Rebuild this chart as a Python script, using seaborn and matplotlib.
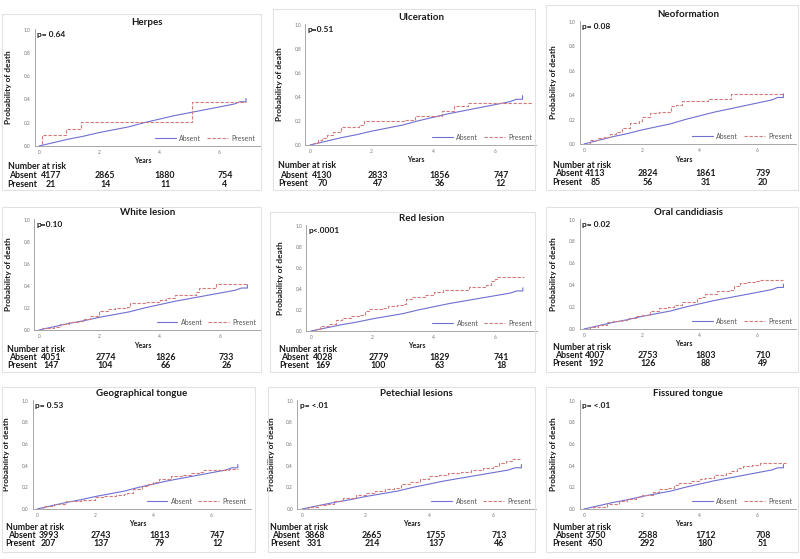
import numpy as np
import pandas as pd
import seaborn as sns
import matplotlib.pyplot as plt
import matplotlib.transforms as mtransforms
from matplotlib.patches import Rectangle
from matplotlib.lines import Line2D

sns.set_style('white')
plt.rcParams['font.family'] = ['Lato', 'DejaVu Sans']

# "Absent" curve: practically the same in every panel
absent_t = [0, 0.5, 1, 1.5, 2, 2.5, 3, 3.5, 4, 4.5, 5, 5.5, 6, 6.5, 6.7, 6.9, 6.9]
absent_p = [0, 0.03, 0.06, 0.085, 0.115, 0.14, 0.165, 0.20, 0.23, 0.26, 0.285, 0.31,
            0.335, 0.36, 0.38, 0.38, 0.41]

# "Present" curves (step functions)
herpes_t = [0, 0.1, 0.9, 1.4, 5.1, 6.9]
herpes_p = [0, 0.095, 0.15, 0.21, 0.38, 0.38]
ulcer_t = [0, 0.1, 0.25, 0.4, 0.55, 0.75, 1.0, 1.6, 1.75, 3.1, 3.4, 4.27, 4.68, 5.14, 7.2]
ulcer_p = [0, 0.02, 0.04, 0.06, 0.08, 0.11, 0.15, 0.17, 0.20, 0.21, 0.24, 0.28, 0.32, 0.35, 0.35]
neo_t = [0, 0.2, 0.5, 0.7, 0.9, 1.1, 1.3, 1.6, 1.9, 2.0, 2.3, 2.6, 3.0, 3.2, 3.4, 4.3, 5.1, 6.9]
neo_p = [0, 0.03, 0.05, 0.06, 0.08, 0.10, 0.13, 0.17, 0.19, 0.22, 0.25, 0.26, 0.31, 0.32,
         0.35, 0.37, 0.41, 0.41]
white_t = [0, 0.1, 0.5, 0.7, 1.0, 1.3, 1.5, 1.7, 2.0, 2.3, 2.5, 2.9, 3.0, 3.5, 4.0, 4.2,
           4.5, 5.0, 5.2, 5.3, 5.85, 6.9]
white_p = [0, 0.02, 0.03, 0.05, 0.07, 0.08, 0.10, 0.13, 0.17, 0.19, 0.20, 0.21, 0.24, 0.25,
           0.27, 0.29, 0.32, 0.32, 0.34, 0.38, 0.42, 0.42]
red_t = [0, 0.15, 0.3, 0.6, 0.8, 1.0, 1.3, 1.6, 1.75, 1.9, 2.3, 2.5, 2.8, 3.0, 3.1, 3.3,
         3.7, 4.0, 4.3, 5.15, 5.7, 5.85, 6.0, 6.05, 6.95]
red_p = [0, 0.02, 0.05, 0.07, 0.10, 0.12, 0.14, 0.15, 0.19, 0.21, 0.22, 0.24, 0.25, 0.26,
         0.30, 0.32, 0.34, 0.37, 0.39, 0.42, 0.44, 0.47, 0.49, 0.51, 0.51]
oral_t = [0, 0.2, 0.5, 0.8, 1.0, 1.3, 1.5, 1.8, 2.0, 2.3, 2.6, 2.9, 3.1, 3.4, 3.9, 4.1,
          4.2, 4.6, 5.0, 5.2, 5.4, 5.6, 5.9, 6.1, 6.9]
oral_p = [0, 0.02, 0.04, 0.06, 0.07, 0.08, 0.10, 0.12, 0.13, 0.16, 0.19, 0.20, 0.22, 0.25,
          0.28, 0.29, 0.32, 0.35, 0.36, 0.39, 0.42, 0.43, 0.44, 0.45, 0.45]
geo_t = [0, 0.2, 0.6, 1.0, 1.5, 2.0, 2.3, 2.7, 3.0, 3.1, 3.3, 3.6, 3.8, 4.0, 4.2, 4.6,
         5.0, 5.3, 5.6, 5.7, 6.6, 6.9]
geo_p = [0, 0.03, 0.05, 0.07, 0.08, 0.11, 0.12, 0.13, 0.14, 0.15, 0.18, 0.21, 0.23, 0.25,
         0.28, 0.30, 0.31, 0.33, 0.34, 0.36, 0.37, 0.37]
pete_t = [0, 0.2, 0.5, 0.8, 1.0, 1.3, 1.7, 2.0, 2.3, 2.6, 2.9, 3.1, 3.4, 3.7, 4.0, 4.3,
          4.6, 5.0, 5.3, 5.7, 6.0, 6.2, 6.4, 6.6, 6.85]
pete_p = [0, 0.02, 0.04, 0.05, 0.07, 0.10, 0.13, 0.15, 0.17, 0.18, 0.19, 0.23, 0.25, 0.28,
          0.30, 0.31, 0.33, 0.34, 0.36, 0.38, 0.40, 0.42, 0.44, 0.46, 0.46]
fiss_t = [0, 0.3, 0.8, 1.2, 1.5, 1.8, 2.0, 2.4, 2.6, 2.9, 3.1, 3.3, 3.7, 4.0, 4.2, 4.5,
          4.9, 5.1, 5.3, 5.5, 5.8, 6.1, 7.0]
fiss_p = [0, 0.02, 0.05, 0.07, 0.09, 0.11, 0.13, 0.16, 0.18, 0.19, 0.22, 0.24, 0.26, 0.28,
          0.29, 0.31, 0.33, 0.35, 0.38, 0.40, 0.41, 0.42, 0.42]

titles = ['Herpes', 'Ulceration', 'Neoformation', 'White lesion', 'Red lesion',
          'Oral candidiasis', 'Geographical tongue', 'Petechial lesions', 'Fissured tongue']
pvalues = ['p= 0.64', 'p=0.51', 'p= 0.08', 'p=0.10', 'p<.0001', 'p= 0.02',
           'p= 0.53', 'p= <.01', 'p= <.01']
present_t = [herpes_t, ulcer_t, neo_t, white_t, red_t, oral_t, geo_t, pete_t, fiss_t]
present_p = [herpes_p, ulcer_p, neo_p, white_p, red_p, oral_p, geo_p, pete_p, fiss_p]

risk_years = [0.4, 2.2, 4.2, 6.2]
risk_absent = [[4177, 2865, 1880, 754], [4130, 2833, 1856, 747], [4113, 2824, 1861, 739],
               [4051, 2774, 1826, 733], [4028, 2779, 1829, 741], [4007, 2753, 1803, 710],
               [3993, 2743, 1813, 747], [3868, 2665, 1755, 713], [3750, 2588, 1712, 708]]
risk_present = [[21, 14, 11, 4], [70, 47, 36, 12], [85, 56, 31, 20],
                [147, 104, 66, 26], [169, 100, 63, 18], [192, 126, 88, 49],
                [207, 137, 79, 12], [331, 214, 137, 46], [450, 292, 180, 51]]

# panel geometry in pixels: x of year 0, px per year, y of 1.0, y of 0.0
geom = [(39, 30.0, 29, 146), (310, 30.8, 24, 145), (584, 28.9, 21, 144),
        (39, 30.2, 219, 330), (311, 30.7, 225, 331), (584, 28.9, 219, 329),
        (37, 29.1, 400, 509), (302, 31.8, 400, 509), (584, 28.9, 400, 509)]
# panel border boxes: left, top, right, bottom (px)
boxes = [(2, 14, 261, 190), (273, 9, 535, 190), (546, 5, 798, 190),
         (2, 207, 261, 372), (270, 212, 535, 372), (546, 207, 798, 372),
         (2, 387, 255, 552), (268, 387, 535, 552), (546, 387, 798, 552)]
# risk table row offsets below the x axis (px)
rows_px = [(21, 30, 38.5)] * 3 + [(19, 27, 35)] * 6

c_abs = '#6f6fd2'
c_pre = '#d27a7a'
dash = (0, (3, 1.5))
txt = '#1a1a1a'
W, H = 800, 559

fig = plt.figure(figsize=(8, 5.59), dpi=100)

for l, t, r, b in boxes:
    fig.add_artist(Rectangle((l / W, 1 - b / H), (r - l) / W, (b - t) / H,
                             transform=fig.transFigure, fill=False,
                             ec='#e2e2e2', lw=0.8))

for i in range(9):
    x0, ppy, ytop, ybot = geom[i]
    left = x0 - 0.15 * ppy
    width = 7.5 * ppy
    h = ybot - ytop
    ax = fig.add_axes([left / W, 1 - ybot / H, width / W, h / H])

    df_a = pd.DataFrame({'Years': absent_t, 'p': absent_p})
    df_p = pd.DataFrame({'Years': present_t[i], 'p': present_p[i]})
    sns.lineplot(data=df_a, x='Years', y='p', ax=ax, color=c_abs, lw=0.8,
                 estimator=None, sort=False, legend=False)
    sns.lineplot(data=df_p, x='Years', y='p', ax=ax, color=c_pre, lw=0.8,
                 estimator=None, sort=False, drawstyle='steps-post',
                 linestyle=dash, legend=False)

    ax.set_xlim(-0.15, 7.35)
    ax.set_ylim(0, 1.005)
    ax.set_xticks([0, 2, 4, 6])
    ax.set_yticks([0, 0.2, 0.4, 0.6, 0.8, 1.0])
    ax.set_yticklabels(['0.0', '0.2', '0.4', '0.6', '0.8', '1.0'])
    ax.tick_params(labelsize=3.5, colors='#777777', length=2, width=0.5, pad=1)
    ax.set_xlabel('')
    ax.set_ylabel('')
    sns.despine(ax=ax)
    for s in ['left', 'bottom']:
        ax.spines[s].set_color('#999999')
        ax.spines[s].set_linewidth(0.6)

    ax.text(0.5, 1 + 6.5 / h, titles[i], transform=ax.transAxes, ha='center',
            va='center', fontsize=7, fontweight='bold', color=txt)
    ax.text(2.5 / width, 1 - 5.5 / h, pvalues[i], transform=ax.transAxes,
            ha='left', va='center', fontsize=6, fontweight='bold', color=txt)
    ax.text(-26 / width, 0.5, 'Probability of death', transform=ax.transAxes,
            rotation=90, ha='center', va='center', fontsize=6, fontweight='bold',
            color=txt)

    trans = mtransforms.blended_transform_factory(ax.transData, ax.transAxes)
    ax.text(3.45, -15 / h, 'Years', transform=trans, ha='center', va='center',
            fontsize=5, fontweight='bold', color=txt)

    g0, g1, g2 = rows_px[i]
    ax.text(-27 / width, -g0 / h, 'Number at risk', transform=ax.transAxes,
            ha='left', va='center', fontsize=6.3, fontweight='bold', color=txt)
    ax.text(-25 / width, -g1 / h, 'Absent', transform=ax.transAxes,
            ha='left', va='center', fontsize=6.3, fontweight='bold', color=txt)
    ax.text(-27 / width, -g2 / h, 'Present', transform=ax.transAxes,
            ha='left', va='center', fontsize=6.3, fontweight='bold', color=txt)
    for xv, na, npr in zip(risk_years, risk_absent[i], risk_present[i]):
        ax.text(xv, -g1 / h, str(na), transform=trans, ha='center', va='center',
                fontsize=6.3, fontweight='bold', color=txt)
        ax.text(xv, -g2 / h, str(npr), transform=trans, ha='center', va='center',
                fontsize=6.3, fontweight='bold', color=txt)

    handles = [Line2D([], [], color=c_abs, lw=0.8),
               Line2D([], [], color=c_pre, lw=0.8, linestyle=dash)]
    ax.legend(handles, ['Absent', 'Present'], loc='lower right',
              bbox_to_anchor=(1.0, 0.0), ncol=2, frameon=False, fontsize=5,
              handlelength=3, handletextpad=0.5, columnspacing=0.8,
              borderaxespad=0.2, labelcolor='#555555')

fig.savefig('out.png', dpi=100)
